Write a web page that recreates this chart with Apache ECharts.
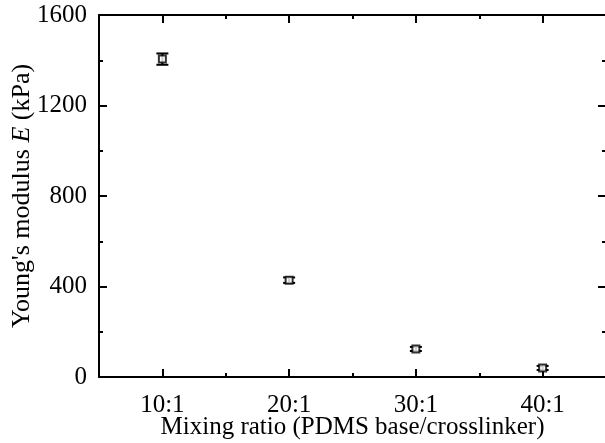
<!DOCTYPE html>
<html>
<head>
<meta charset="utf-8">
<script src="https://cdn.jsdelivr.net/npm/echarts@6/dist/echarts.min.js"></script>
<style>
  html, body { margin: 0; padding: 0; background: #fff; }
  #chart { width: 605px; height: 443px; }
</style>
</head>
<body>
<div id="chart"></div>
<script>
// Mixing ratios of PDMS base to crosslinker
const categories = ['10:1', '20:1', '30:1', '40:1'];
// Young's modulus (kPa) and its standard deviation
const modulus = [1405, 428, 124, 40];
const modulusErr = [25, 12, 9, 9];
// Value axis range
const yMin = 0, yMax = 1600, yStep = 400;

const FONT = '"Liberation Serif", "DejaVu Serif", serif';
const INK = '#000';
const FS = 25;

const errData = categories.map((c, i) => [i, modulus[i] - modulusErr[i], modulus[i] + modulusErr[i]]);
const pointData = categories.map((c, i) => [i, modulus[i]]);

function catAxis(pos, major, showLine, showLabel) {
  return {
    type: 'category',
    position: pos,
    data: categories,
    boundaryGap: true,
    axisLine: { show: showLine, onZero: false, lineStyle: { color: INK, width: 2 } },
    axisTick: {
      show: true, inside: true, alignWithLabel: major,
      length: major ? 8 : 4,
      lineStyle: { color: INK, width: 2 }
    },
    axisLabel: { show: showLabel, color: INK, fontSize: FS, fontFamily: FONT, margin: 16 },
    splitLine: { show: false }
  };
}

function valAxis(pos, showLabel) {
  return {
    type: 'value',
    position: pos,
    min: yMin, max: yMax, interval: yStep,
    axisLine: { show: true, onZero: false, lineStyle: { color: INK, width: 2 } },
    axisTick: { show: true, inside: true, length: 8, lineStyle: { color: INK, width: 2 } },
    minorTick: { show: true, splitNumber: 2, length: 4, lineStyle: { color: INK, width: 2 } },
    axisLabel: {
      show: showLabel, color: INK, fontSize: FS, fontFamily: FONT, margin: 12,
      formatter: function (v) { return String(v); }
    },
    splitLine: { show: false }
  };
}

const xBottom = catAxis('bottom', true, true, true);
xBottom.name = 'Mixing ratio (PDMS base/crosslinker)';
xBottom.nameLocation = 'middle';
xBottom.nameGap = 38;
xBottom.nameMoveOverlap = false;
xBottom.nameTextStyle = { color: INK, fontSize: FS, fontFamily: FONT };

const yLeft = valAxis('left', true);
yLeft.name = "Young's modulus {i|E} (kPa)";
yLeft.nameLocation = 'middle';
yLeft.nameGap = 64;
yLeft.nameRotate = 90;
yLeft.nameMoveOverlap = false;
yLeft.nameTextStyle = {
  color: INK, fontSize: 26, fontFamily: FONT,
  rich: { i: { fontStyle: 'italic', fontSize: 26, fontFamily: FONT, color: INK } }
};

const chart = echarts.init(document.getElementById('chart'), null, { renderer: 'canvas' });
chart.setOption({
  animation: false,
  backgroundColor: '#fff',
  grid: { left: 99, right: -1, top: 15, bottom: 66, containLabel: false, outerBoundsMode: 'none' },
  xAxis: [
    xBottom,
    catAxis('bottom', false, false, false),
    catAxis('top', true, true, false),
    catAxis('top', false, false, false)
  ],
  yAxis: [
    yLeft,
    valAxis('right', false)
  ],
  series: [
    {
      type: 'custom',
      xAxisIndex: 0, yAxisIndex: 0,
      data: errData,
      renderItem: function (params, api) {
        const lo = api.coord([api.value(0), api.value(1)]);
        const hi = api.coord([api.value(0), api.value(2)]);
        const hw = 6;
        const style = { stroke: INK, lineWidth: 2 };
        return {
          type: 'group',
          children: [
            { type: 'line', shape: { x1: lo[0], y1: lo[1], x2: hi[0], y2: hi[1] }, style: style },
            { type: 'line', shape: { x1: lo[0] - hw, y1: lo[1], x2: lo[0] + hw, y2: lo[1] }, style: style },
            { type: 'line', shape: { x1: hi[0] - hw, y1: hi[1], x2: hi[0] + hw, y2: hi[1] }, style: style }
          ]
        };
      },
      z: 3
    },
    {
      type: 'scatter',
      xAxisIndex: 0, yAxisIndex: 0,
      data: pointData,
      symbol: 'rect',
      symbolSize: 7,
      itemStyle: { color: '#fff', borderColor: INK, borderWidth: 2 },
      z: 4
    }
  ]
});
</script>
</body>
</html>
